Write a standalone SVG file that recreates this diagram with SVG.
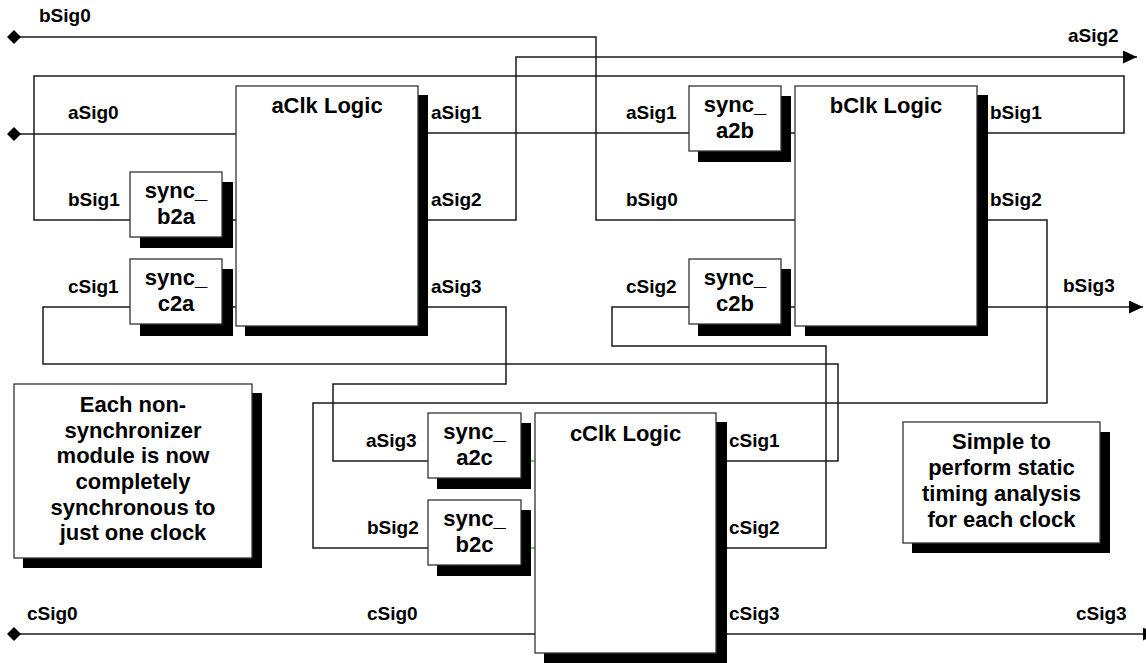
<svg xmlns="http://www.w3.org/2000/svg" width="1146" height="663" viewBox="0 0 1146 663">
<style>
.w{fill:none;stroke:#1a1a1a;stroke-width:1.5}
.g{fill:none;stroke:#2ecc2e;stroke-width:1.5}
.box{fill:#fff;stroke:#333;stroke-width:1.3}
.sh{fill:#000}
.lbl{font-family:"Liberation Sans",Arial,sans-serif;font-weight:bold;font-size:19px;fill:#000}
.t{font-family:"Liberation Sans",Arial,sans-serif;font-weight:bold;font-size:22px;fill:#000;text-anchor:middle}
</style>
<defs>
<marker id="arr" markerUnits="userSpaceOnUse" markerWidth="14" markerHeight="13" refX="14" refY="6.5" orient="auto"><path d="M0,0 L14,6.5 L0,13 z" fill="#000"/></marker>
<marker id="dia" markerUnits="userSpaceOnUse" markerWidth="14" markerHeight="14" refX="7" refY="7" orient="0"><path d="M0,7 L7,0 L14,7 L7,14 z" fill="#000"/></marker>
</defs>
<rect width="1146" height="663" fill="#fff"/>
<g id="connectors">
<path class="w" d="M14,37 H596 V220 H795" marker-start="url(#dia)"/>
<path class="w" d="M14,134 H236" marker-start="url(#dia)"/>
<path class="w" d="M14,634 H535" marker-start="url(#dia)"/>
<path class="w" d="M418,220 H516 V57 H1137" marker-end="url(#arr)"/>
<path class="w" d="M977,133 H1124 V76 H34 V220 H130"/>
<path class="w" d="M418,133 H689"/>
<path class="w" d="M418,307 H506 V384 H333 V461 H428"/>
<path class="w" d="M977,220 H1047 V403 H313 V548 H428"/>
<path class="w" d="M977,307 H1143" marker-end="url(#arr)"/>
<path class="w" d="M716,461 H838 V364 H43 V307 H130"/>
<path class="w" d="M716,548 H826 V346 H612 V307 H689"/>
<path class="w" d="M716,634 H1157" marker-end="url(#arr)"/>
<path class="w" d="M222,220 H236 M222,307 H236 M781,133 H795 M781,307 H795"/>
<path class="g" d="M521,461 H535 M521,548 H535"/>
</g>
<g id="aClk">
<rect class="sh" x="245" y="95" width="183" height="241"/>
<rect class="box" x="236" y="86" width="182" height="240"/>
<text class="t" x="327" y="113">aClk Logic</text>
</g>
<g id="bClk">
<rect class="sh" x="805" y="95" width="183" height="241"/>
<rect class="box" x="795" y="86" width="182" height="240"/>
<text class="t" x="886" y="113">bClk Logic</text>
</g>
<g id="cClk">
<rect class="sh" x="544" y="422" width="183" height="250"/>
<rect class="box" x="535" y="413" width="181" height="240"/>
<text class="t" x="625.5" y="441">cClk Logic</text>
</g>
<g id="sync_b2a">
<rect class="sh" x="140" y="182" width="93" height="66"/>
<rect class="box" x="130" y="172" width="92" height="65"/>
<text class="t" x="176" y="198">sync_</text><text class="t" x="176" y="224">b2a</text>
</g>
<g id="sync_c2a">
<rect class="sh" x="140" y="269" width="93" height="67"/>
<rect class="box" x="130" y="259" width="92" height="65"/>
<text class="t" x="176" y="285">sync_</text><text class="t" x="176" y="311">c2a</text>
</g>
<g id="sync_a2b">
<rect class="sh" x="698" y="96" width="93" height="66"/>
<rect class="box" x="689" y="86" width="92" height="65"/>
<text class="t" x="735" y="112">sync_</text><text class="t" x="735" y="138">a2b</text>
</g>
<g id="sync_c2b">
<rect class="sh" x="698" y="269" width="93" height="67"/>
<rect class="box" x="689" y="259" width="92" height="65"/>
<text class="t" x="735" y="285">sync_</text><text class="t" x="735" y="311">c2b</text>
</g>
<g id="sync_a2c">
<rect class="sh" x="437" y="423" width="94" height="66"/>
<rect class="box" x="428" y="413" width="93" height="65"/>
<text class="t" x="474.5" y="439">sync_</text><text class="t" x="474.5" y="465">a2c</text>
</g>
<g id="sync_b2c">
<rect class="sh" x="437" y="510" width="94" height="66"/>
<rect class="box" x="428" y="500" width="93" height="65"/>
<text class="t" x="474.5" y="526">sync_</text><text class="t" x="474.5" y="552">b2c</text>
</g>
<g id="note_left">
<rect class="sh" x="23" y="393" width="239" height="175"/>
<rect class="box" x="14" y="384" width="238" height="174"/>
<text class="t" x="133" y="412">Each non-</text>
<text class="t" x="133" y="437.5">synchronizer</text>
<text class="t" x="133" y="463">module is now</text>
<text class="t" x="133" y="489">completely</text>
<text class="t" x="133" y="514.5">synchronous to</text>
<text class="t" x="133" y="540">just one clock</text>
</g>
<g id="note_right">
<rect class="sh" x="912" y="432" width="198" height="121"/>
<rect class="box" x="903" y="422" width="197" height="121"/>
<text class="t" x="1001.5" y="449">Simple to</text>
<text class="t" x="1001.5" y="475">perform static</text>
<text class="t" x="1001.5" y="501">timing analysis</text>
<text class="t" x="1001.5" y="527">for each clock</text>
</g>
<g id="labels">
<text class="lbl" x="39" y="22">bSig0</text>
<text class="lbl" x="1068" y="42">aSig2</text>
<text class="lbl" x="68" y="119">aSig0</text>
<text class="lbl" x="431" y="119">aSig1</text>
<text class="lbl" x="626" y="119">aSig1</text>
<text class="lbl" x="990" y="119">bSig1</text>
<text class="lbl" x="68" y="206">bSig1</text>
<text class="lbl" x="431" y="206">aSig2</text>
<text class="lbl" x="626" y="206">bSig0</text>
<text class="lbl" x="990" y="206">bSig2</text>
<text class="lbl" x="68" y="293">cSig1</text>
<text class="lbl" x="431" y="293">aSig3</text>
<text class="lbl" x="626" y="293">cSig2</text>
<text class="lbl" x="1063" y="292">bSig3</text>
<text class="lbl" x="366" y="447">aSig3</text>
<text class="lbl" x="729" y="447">cSig1</text>
<text class="lbl" x="367" y="534">bSig2</text>
<text class="lbl" x="729" y="534">cSig2</text>
<text class="lbl" x="27" y="620">cSig0</text>
<text class="lbl" x="367" y="620">cSig0</text>
<text class="lbl" x="729" y="620">cSig3</text>
<text class="lbl" x="1076" y="620">cSig3</text>
</g>
</svg>
